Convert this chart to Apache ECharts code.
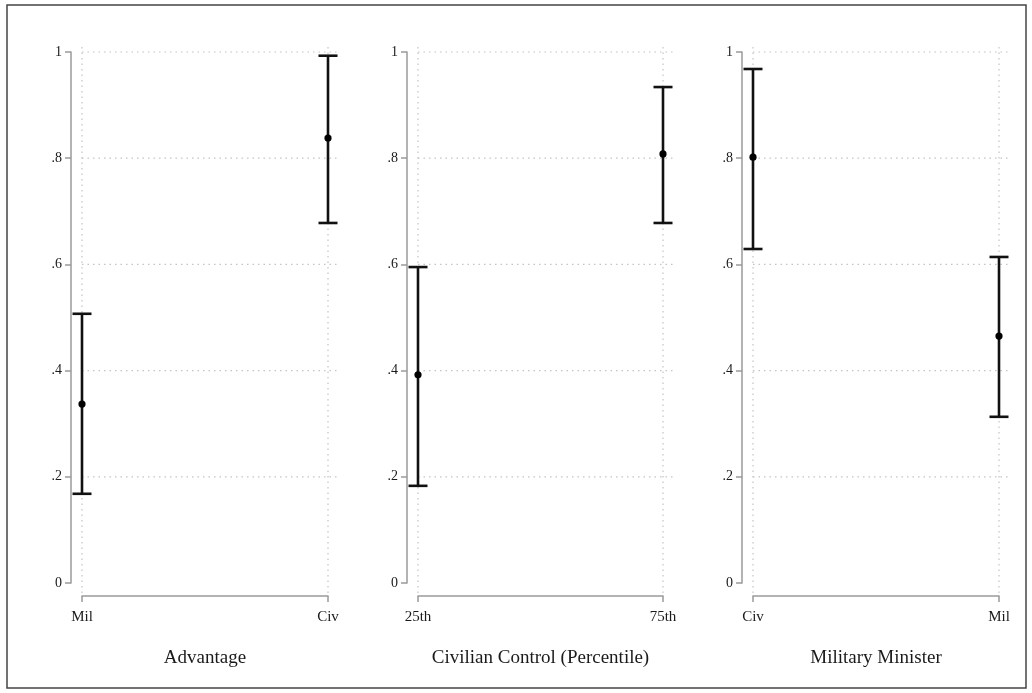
<!DOCTYPE html>
<html>
<head>
<meta charset="utf-8">
<script src="https://cdn.jsdelivr.net/npm/echarts@6/dist/echarts.min.js"></script>
<style>
html,body{margin:0;padding:0;background:#fff;}
#chart{width:1032px;height:693px;}
</style>
</head>
<body>
<div id="chart"></div>
<script>
// ---- data ----
const panelTitles = ['Advantage', 'Civilian Control (Percentile)', 'Military Minister'];
const panelCategories = [['Mil', 'Civ'], ['25th', '75th'], ['Civ', 'Mil']];
const estimates = [[0.337, 0.838], [0.392, 0.808], [0.802, 0.465]];
const lowerCI  = [[0.168, 0.678], [0.183, 0.678], [0.629, 0.313]];
const upperCI  = [[0.507, 0.993], [0.595, 0.934], [0.968, 0.614]];
const yTickValues = [0, 0.2, 0.4, 0.6, 0.8, 1];
const yTickLabels = ['0', '.2', '.4', '.6', '.8', '1'];
const yGridValues = [0.2, 0.4, 0.6, 0.8, 1];

// ---- layout ----
const panelLeft = [82, 418, 753];
const panelWidth = [246, 245, 246];
const plotTop = 52, plotHeight = 531;
const serif = '"Liberation Serif", "DejaVu Serif", serif';

const chart = echarts.init(document.getElementById('chart'), null, {renderer: 'canvas'});

const grids = [], xAxes = [], yAxes = [], series = [];
panelTitles.forEach((title, p) => {
  grids.push({left: panelLeft[p], width: panelWidth[p], top: plotTop, height: plotHeight, containLabel: false});
  xAxes.push({
    type: 'category', gridIndex: p, data: panelCategories[p], boundaryGap: false,
    offset: 13,
    name: title, nameLocation: 'middle', nameGap: 53,
    nameTextStyle: {fontFamily: serif, fontSize: 19, color: '#1a1a1a'},
    axisLine: {show: true, onZero: false, lineStyle: {color: '#9a9a9a', width: 1.5}},
    axisTick: {show: true, inside: false, length: 6, alignWithLabel: true, lineStyle: {color: '#9a9a9a', width: 1.5}},
    axisLabel: {fontFamily: serif, fontSize: 15, color: '#1a1a1a', margin: 14},
    splitLine: {show: false}
  });
  yAxes.push({
    type: 'value', gridIndex: p, min: 0, max: 1, interval: 0.2,
    offset: 11,
    axisLine: {show: true, onZero: false, lineStyle: {color: '#9a9a9a', width: 1.5}},
    axisTick: {show: true, inside: false, length: 6, lineStyle: {color: '#9a9a9a', width: 1.5}},
    axisLabel: {
      fontFamily: serif, fontSize: 14, color: '#1a1a1a', margin: 9,
      padding: [5, 0, 0, 0],
      formatter: v => yTickLabels[Math.round(v * 5)]
    },
    splitLine: {show: false}
  });

  // horizontal dotted grid lines
  series.push({
    type: 'custom', xAxisIndex: p, yAxisIndex: p, silent: true, z: 1,
    data: yGridValues.map(v => [0, v]),
    renderItem: (params, api) => {
      const a = api.coord([0, api.value(1)]);
      const b = api.coord([1, api.value(1)]);
      return {type: 'line', shape: {x1: a[0], y1: a[1], x2: b[0] + 10, y2: b[1]},
        style: {stroke: '#c4c4c4', lineWidth: 1.2, lineDash: [1.5, 4]}};
    }
  });
  // vertical dotted grid lines
  series.push({
    type: 'custom', xAxisIndex: p, yAxisIndex: p, silent: true, z: 1,
    data: panelCategories[p].map((c, i) => [i, 0]),
    renderItem: (params, api) => {
      const a = api.coord([api.value(0), 0]);
      const b = api.coord([api.value(0), 1]);
      return {type: 'line', shape: {x1: a[0], y1: a[1] + 10, x2: b[0], y2: b[1] - 9},
        style: {stroke: '#c4c4c4', lineWidth: 1.2, lineDash: [1.5, 4]}};
    }
  });
  // error bars with point estimates
  series.push({
    type: 'custom', xAxisIndex: p, yAxisIndex: p, z: 5,
    data: estimates[p].map((m, i) => [i, m, lowerCI[p][i], upperCI[p][i]]),
    renderItem: (params, api) => {
      const x = api.value(0);
      const mid = api.coord([x, api.value(1)]);
      const lo = api.coord([x, api.value(2)]);
      const hi = api.coord([x, api.value(3)]);
      const cap = 9.5;
      const st = {stroke: '#111', lineWidth: 2.6};
      return {type: 'group', children: [
        {type: 'line', shape: {x1: lo[0], y1: lo[1], x2: hi[0], y2: hi[1]}, style: st},
        {type: 'line', shape: {x1: lo[0] - cap, y1: lo[1], x2: lo[0] + cap, y2: lo[1]}, style: st},
        {type: 'line', shape: {x1: hi[0] - cap, y1: hi[1], x2: hi[0] + cap, y2: hi[1]}, style: st},
        {type: 'circle', shape: {cx: mid[0], cy: mid[1], r: 3.6}, style: {fill: '#000'}}
      ]};
    }
  });
});

chart.setOption({
  backgroundColor: '#fff',
  animation: false,
  grid: grids,
  xAxis: xAxes,
  yAxis: yAxes,
  series: series,
  graphic: [{
    type: 'rect', shape: {x: 7, y: 5, width: 1019, height: 683},
    style: {fill: 'none', stroke: '#444', lineWidth: 1.5}, silent: true, z: 100
  }]
});
</script>
</body>
</html>
